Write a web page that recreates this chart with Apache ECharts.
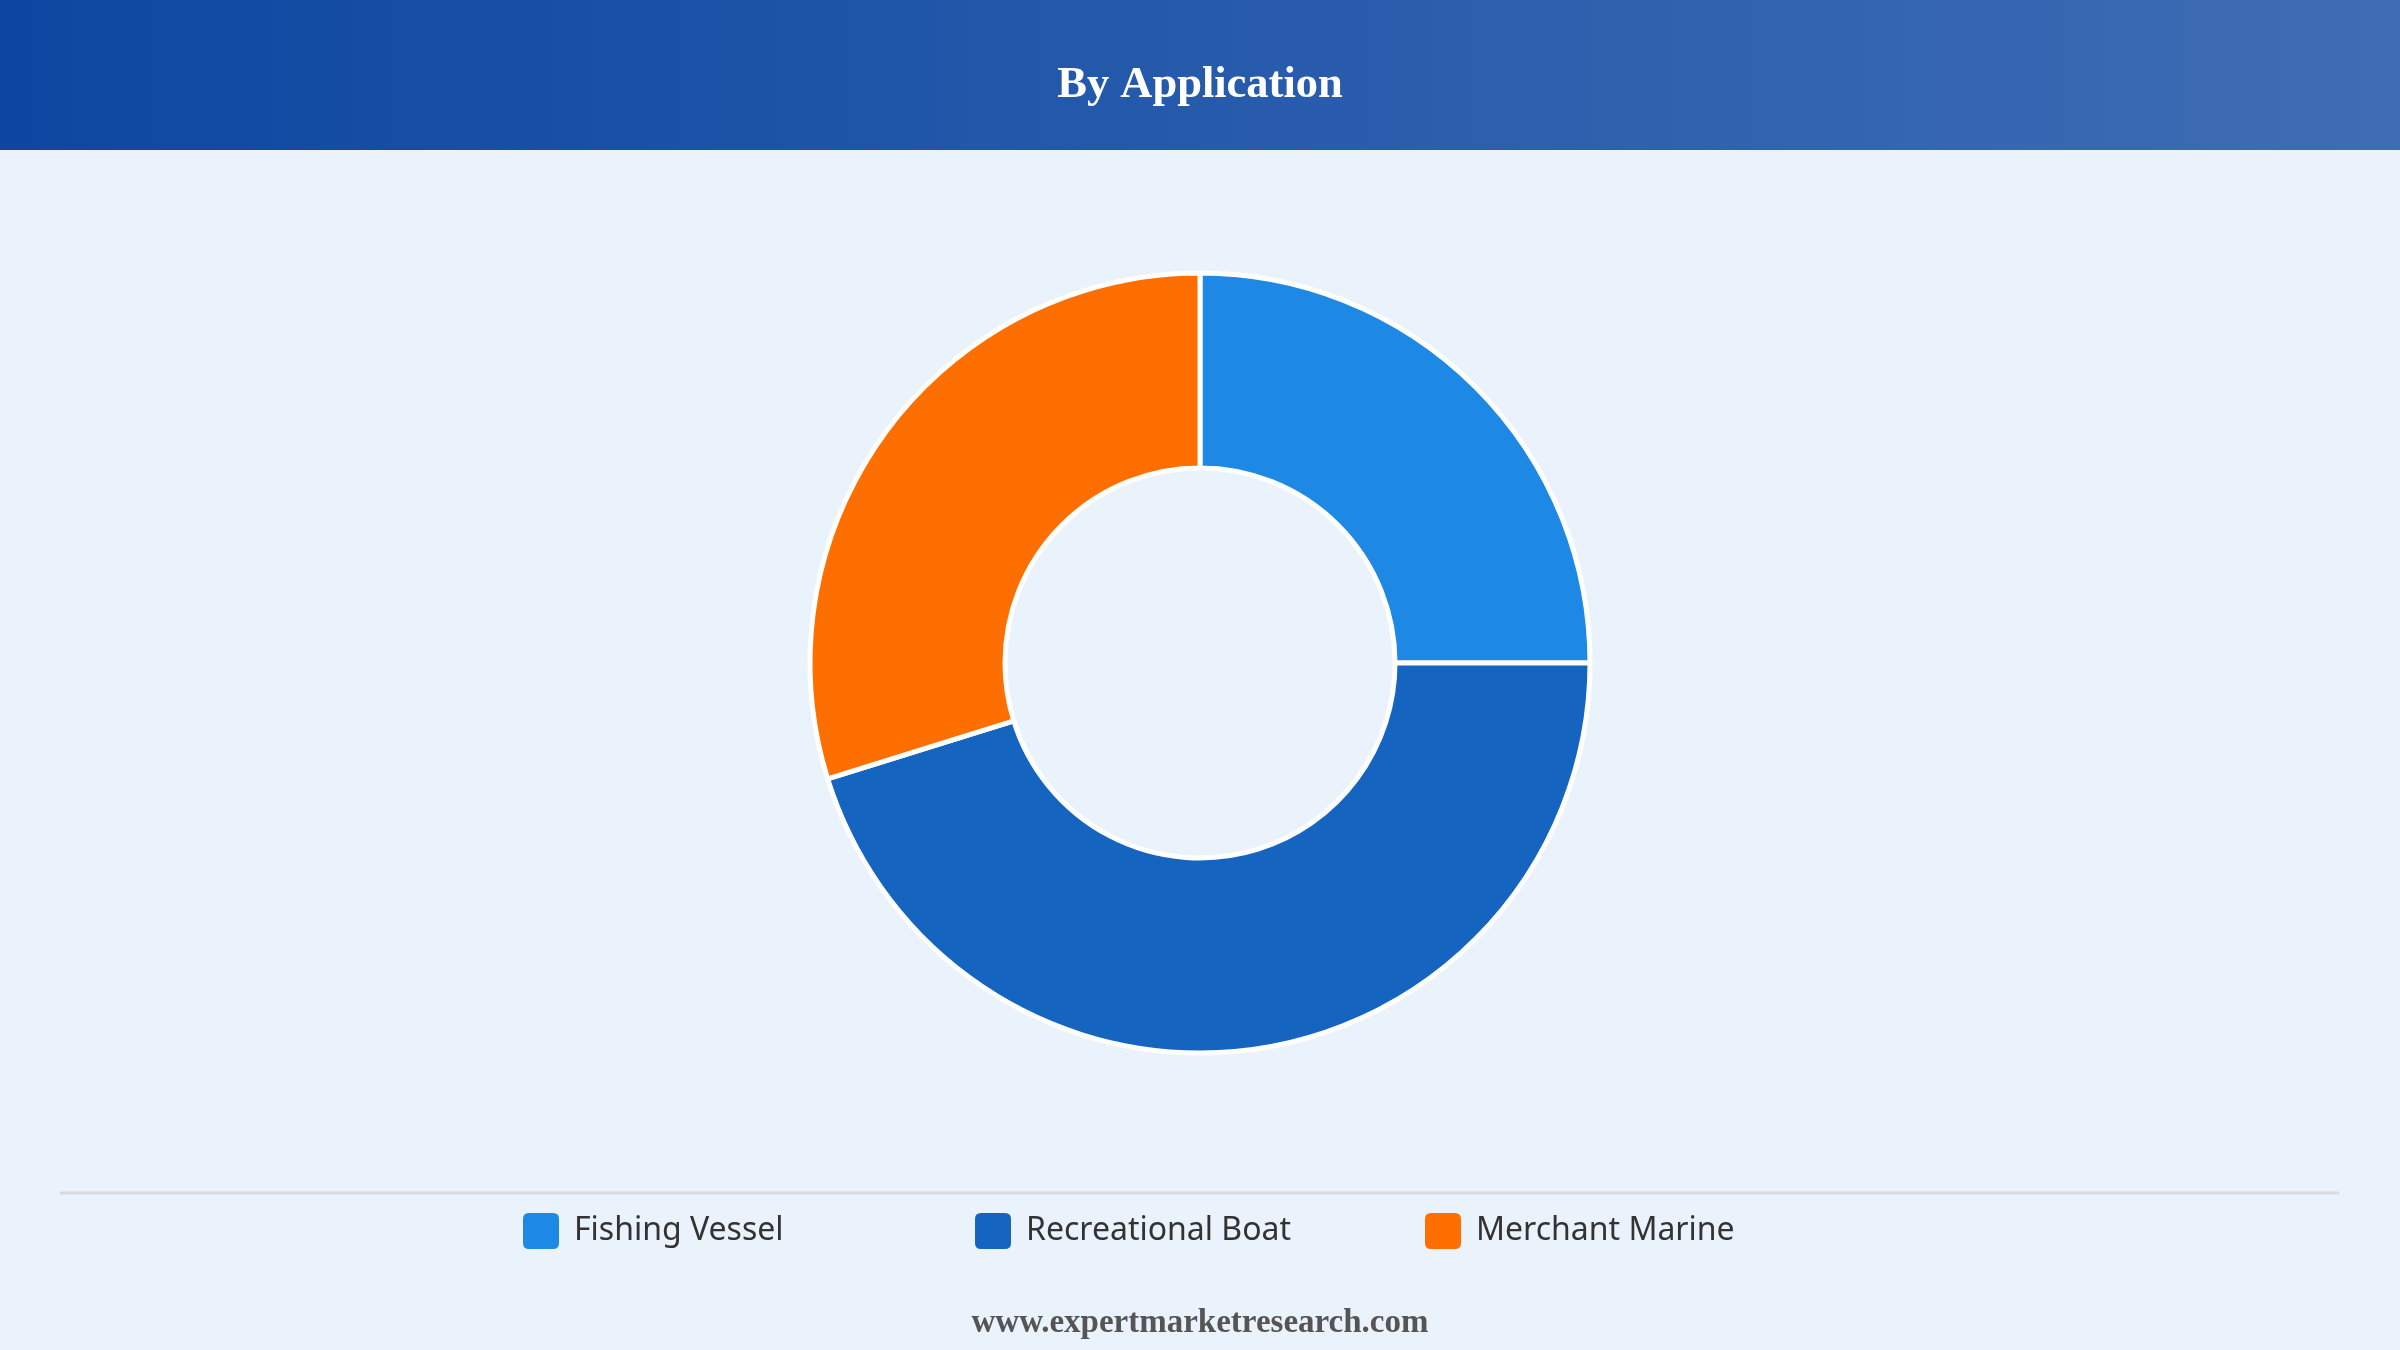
<!DOCTYPE html>
<html>
<head>
<meta charset="utf-8">
<script src="https://cdn.jsdelivr.net/npm/echarts@6/dist/echarts.min.js"></script>
<style>
html,body{margin:0;padding:0;background:#EAF2FB;}
#chart{width:2400px;height:1350px;}
</style>
</head>
<body>
<div id="chart"></div>
<script>
const titleText = 'By Application';
const footerText = 'www.expertmarketresearch.com';
const categories = ['Fishing Vessel', 'Recreational Boat', 'Merchant Marine'];
const values = [25, 45.2, 29.8];
const colors = ['#1E88E5', '#1565C0', '#FF6F00'];
const legendLefts = [523, 975, 1425];

const chart = echarts.init(document.getElementById('chart'));

const legends = categories.map((c, i) => ({
  data: [c],
  left: legendLefts[i],
  top: 1213,
  padding: 0,
  itemWidth: 36,
  itemHeight: 36,
  icon: 'path://M6,0 L30,0 Q36,0 36,6 L36,30 Q36,36 30,36 L6,36 Q0,36 0,30 L0,6 Q0,0 6,0 Z',
  selectedMode: false,
  itemStyle: { borderWidth: 0 },
  textStyle: {
    fontFamily: 'Noto Sans',
    fontSize: 32,
    color: '#333333',
    padding: [3, 0, 0, 10]
  }
}));

chart.setOption({
  backgroundColor: '#EAF2FB',
  animation: false,
  color: colors,
  title: [{
    text: titleText,
    left: 'center',
    top: 80,
    textVerticalAlign: 'middle',
    textStyle: {
      fontFamily: 'Liberation Serif',
      fontWeight: 'bold',
      fontSize: 44.5,
      color: '#FFFFFF'
    }
  }, {
    text: footerText,
    left: 'center',
    top: 1318,
    textVerticalAlign: 'middle',
    textStyle: {
      fontFamily: 'Liberation Serif',
      fontWeight: 'bold',
      fontSize: 33,
      color: '#555555'
    }
  }],
  graphic: [{
    type: 'rect',
    z: -1,
    shape: { x: 0, y: 0, width: 2400, height: 150 },
    style: {
      fill: {
        type: 'linear', x: 0, y: 0, x2: 1, y2: 0,
        colorStops: [{ offset: 0, color: '#0D47A1' }, { offset: 1, color: '#3F6DB5' }]
      }
    }
  }, {
    type: 'line',
    shape: { x1: 60, y1: 1193, x2: 2339, y2: 1193 },
    style: { stroke: '#D8DADE', lineWidth: 3 }
  }],
  legend: legends,
  series: [{
    type: 'pie',
    center: [1200, 663],
    radius: [195, 390],
    startAngle: 90,
    clockwise: true,
    label: { show: false },
    labelLine: { show: false },
    itemStyle: { borderColor: '#FFFFFF', borderWidth: 5 },
    emphasis: { disabled: true },
    data: categories.map((c, i) => ({ name: c, value: values[i] }))
  }]
});
</script>
</body>
</html>
